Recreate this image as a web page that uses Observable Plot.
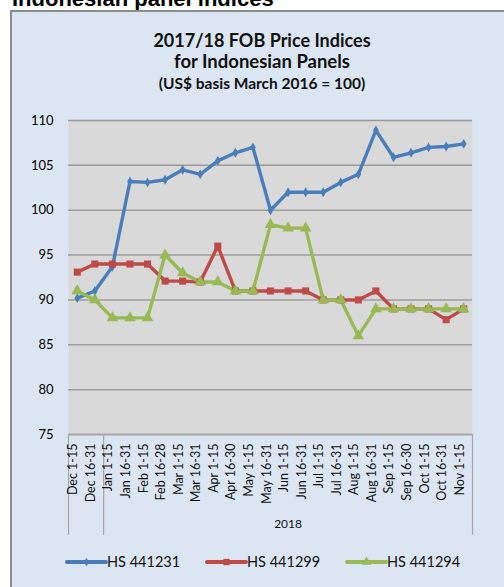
<!DOCTYPE html>
<html><head><meta charset="utf-8">
<script src="https://cdn.jsdelivr.net/npm/d3@7"></script>
<script src="https://cdn.jsdelivr.net/npm/@observablehq/plot@0.6"></script>
<style>
body{margin:0;width:504px;height:587px;overflow:hidden;background:#fff;position:relative;font-family:Lato,sans-serif}
#top{position:absolute;left:12px;top:-12px;font:bold 22px/22px "Liberation Sans",Arial,sans-serif;color:#000;white-space:nowrap}
#box{position:absolute;left:10px;top:10px;width:520px;height:600px;background:#dce6f2;border-left:2px solid #8c8c8c;border-top:2px solid #8c8c8c}
.t{position:absolute;left:0;width:524px;text-align:center;font-weight:bold;color:#111;white-space:nowrap;line-height:20px}
#chart{position:absolute;left:0;top:110px}
#legend{position:absolute;left:0;top:548px}
</style></head><body>
<div id="top">Indonesian panel indices</div>
<div id="box"></div>
<div class="t" style="top:30px;font-size:18px">2017/18 FOB Price Indices</div>
<div class="t" style="top:51px;font-size:18.5px">for Indonesian Panels</div>
<div class="t" style="top:73px;font-size:15.5px">(US$ basis March 2016 = 100)</div>
<div id="chart"></div>
<div id="legend"></div>
<script>
const labels = ["Dec 1-15","Dec 16-31","Jan 1-15","Jan 16-31","Feb 1-15","Feb 16-28","Mar 1-15","Mar 16-31","Apr 1-15","Apr 16-30","May 1-15","May 16-31","Jun 1-15","Jun 16-31","Jul 1-15","Jul 16-31","Aug 1-15","Aug 16-31","Sep 1-15","Sep 16-30","Oct 1-15","Oct 16-31","Nov 1-15"];
const hs441231 = [90.2, 91.0, 93.7, 103.2, 103.1, 103.4, 104.5, 104.0, 105.5, 106.4, 107.0, 100.0, 102.0, 102.0, 102.0, 103.1, 104.0, 108.9, 105.9, 106.4, 107.0, 107.1, 107.4];
const hs441299 = [93.1, 94, 94, 94, 94, 92.1, 92.1, 92, 96, 91, 91, 91, 91, 91, 90, 90, 90, 91, 89, 89, 89, 87.8, 89];
const hs441294 = [91, 90, 88, 88, 88, 95, 93, 92, 92, 91, 91, 98.4, 98, 98, 90, 90, 86, 89, 89, 89, 89, 89, 89];
const seriesNames = ["HS 441231", "HS 441299", "HS 441294"];
const seriesColors = ["#4a7ebb", "#be4b48", "#98b954"];
const seriesSymbols = ["diamond", "square", "triangle"];
const seriesR = [3, 4, 4.3];
const yTicks = [75, 80, 85, 90, 95, 100, 105, 110];
const yearGroups = [{label: "", start: 0, end: 1}, {label: "2018", start: 2, end: 22}];

const values = [hs441231, hs441299, hs441294];
const data = values.flatMap((arr, s) => arr.map((v, i) => ({i, v, s: seriesNames[s]})));
const idx = labels.map((_, i) => i);
const seps = [yearGroups[0].start - 0.5, ...yearGroups.map(g => g.end + 0.5)];

const chart = Plot.plot({
  width: 504, height: 430,
  marginTop: 10, marginBottom: 106, marginLeft: 68, marginRight: 32,
  style: {background: "transparent", fontFamily: "Lato, sans-serif", color: "#000"},
  x: {type: "linear", domain: [-0.5, labels.length - 0.5], axis: null},
  y: {domain: [75, 110], axis: null},
  marks: [
    Plot.frame({fill: "#d9d9d9", stroke: null}),
    Plot.ruleY(yTicks, {y: d => d, stroke: "#9c9c9c", strokeWidth: 1.5}),
    Plot.axisY(yTicks, {tickSize: 0, tickPadding: 15, fontSize: 13, tickFormat: d => d, label: null}),
    Plot.ruleY([75], {stroke: "#a6a6a6", strokeWidth: 1.5}),
    Plot.ruleX(seps, {x: d => d, stroke: "#a6a6a6", strokeWidth: 1.2, insetTop: 314, insetBottom: -101}),
    Plot.text(idx, {x: d => d, text: d => labels[d], rotate: -90, textAnchor: "end", frameAnchor: "bottom", dy: 9, fontSize: 12.5, fill: "#111"}),
    Plot.text(yearGroups.filter(g => g.label), {x: g => (g.start + g.end) / 2, text: "label", frameAnchor: "bottom", dy: 93, fontSize: 12, fill: "#111"}),
    ...seriesNames.map((name, s) => Plot.line(data.filter(d => d.s === name), {x: "i", y: "v", stroke: seriesColors[s], strokeWidth: 3.4, strokeLinejoin: "round"})),
    ...seriesNames.map((name, s) => Plot.dot(data.filter(d => d.s === name), {x: "i", y: "v", fill: seriesColors[s], symbol: () => seriesSymbols[s], r: seriesR[s]}))
  ]
});
document.getElementById("chart").appendChild(chart);

// legend
const leg = d3.select("#legend").append("svg").attr("width", 504).attr("height", 30);
const legX = [67, 207, 347];
seriesNames.forEach((name, s) => {
  const g = leg.append("g").attr("transform", `translate(${legX[s]},14)`);
  g.append("line").attr("x1", 0).attr("x2", 39).attr("y1", 0).attr("y2", 0).attr("stroke", seriesColors[s]).attr("stroke-width", 4).attr("stroke-linecap", "round");
  const sym = d3.symbol().type(s === 0 ? d3.symbolDiamond : s === 1 ? d3.symbolSquare : d3.symbolTriangle).size(s === 0 ? 22 : 40);
  g.append("path").attr("d", sym()).attr("transform", "translate(19.5,0)").attr("fill", seriesColors[s]);
  g.append("text").attr("x", 40).attr("y", 5).attr("font-family", "Lato, sans-serif").attr("font-size", 14.5).attr("fill", "#111").text(name);
});
</script>
</body></html>
